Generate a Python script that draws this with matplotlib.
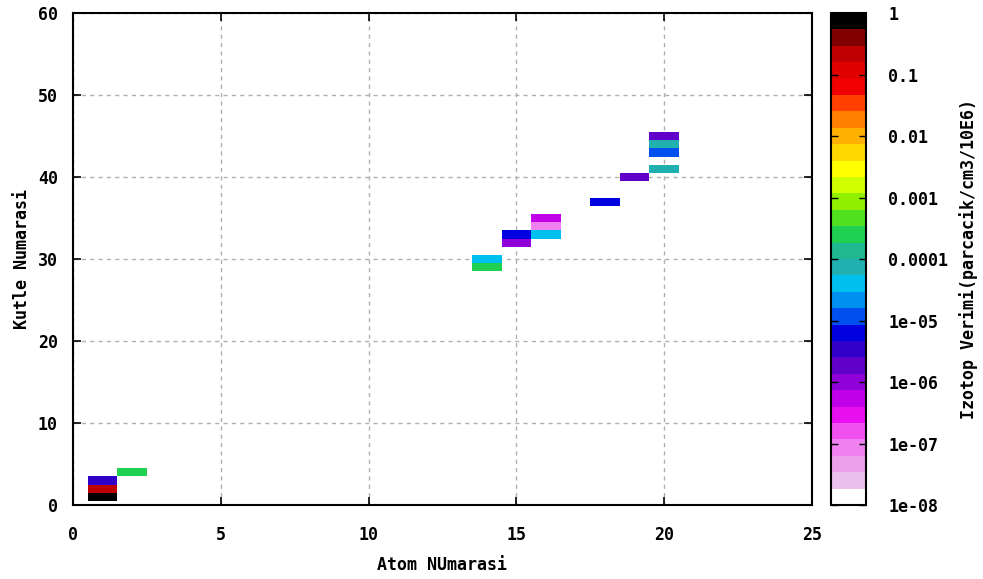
import numpy as np
import matplotlib.pyplot as plt
from matplotlib.colors import ListedColormap, LogNorm

# izotoplar: atom numarasi (Z), kutle numarasi (A), verim
atom_no = [1, 1, 1, 2, 14, 14, 15, 15, 16, 16, 16, 18, 19, 20, 20, 20, 20]
kutle_no = [1, 2, 3, 4, 29, 30, 32, 33, 33, 34, 35, 37, 40, 41, 43, 44, 45]
verim = [0.75, 0.2, 3.4e-6, 2.5e-4, 2.5e-4, 4e-5, 1e-6, 6.3e-6, 4e-5,
         8.6e-8, 5.4e-7, 6.3e-6, 1.8e-6, 7.4e-5, 1.2e-5, 7.4e-5, 1.8e-6]

# palet, 1e-08 -> 1
palet = ["#ffffff", "#ecc0ec", "#eca0ec", "#f080f0", "#f050f0", "#e810f0",
         "#c000e8", "#9000d8", "#6000c8", "#3000c8", "#0000e0", "#0050f0",
         "#0090f0", "#00c0f0", "#20b0b0", "#20b890", "#20d050", "#50e020",
         "#90f000", "#d0ff00", "#ffff00", "#ffd800", "#ffb000", "#ff8000",
         "#ff4000", "#f00000", "#e00000", "#c00000", "#800000", "#000000"]

cb_ticks = [1e-8, 1e-7, 1e-6, 1e-5, 1e-4, 1e-3, 1e-2, 1e-1, 1]
cb_labels = ["1e-08", "1e-07", "1e-06", "1e-05", "0.0001", "0.001", "0.01", "0.1", "1"]

plt.rcParams["font.family"] = "DejaVu Sans Mono"
plt.rcParams["font.weight"] = "bold"

grid = np.full((61, 26), np.nan)
for z, a, v in zip(atom_no, kutle_no, verim):
    grid[a, z] = v

fig = plt.figure(figsize=(9.83, 5.79), dpi=100)
ax = fig.add_axes([0.0743, 0.1278, 0.7517, 0.8497])
cax = fig.add_axes([0.8454, 0.1278, 0.0356, 0.8497])

cmap = ListedColormap(palet)
norm = LogNorm(vmin=1e-8, vmax=1)
xe = np.arange(-0.5, 26, 1)
ye = np.arange(-0.5, 61, 1)
mesh = ax.pcolormesh(xe, ye, grid, cmap=cmap, norm=norm, zorder=2)

ax.set_xlim(0, 25)
ax.set_ylim(0, 60)
ax.set_xticks(range(0, 26, 5))
ax.set_yticks(range(0, 61, 10))
ax.grid(True, color="#b0b0b0", linestyle=(0, (3, 3)), linewidth=1.0, zorder=1)
ax.set_axisbelow(True)
ax.tick_params(direction="in", length=6, width=1.2, top=True, right=True,
               labelsize=12)
ax.tick_params(axis="x", pad=15)
ax.tick_params(axis="y", pad=11)
for s in ax.spines.values():
    s.set_linewidth(1.5)

ax.set_xlabel("Atom NUmarasi", fontsize=12, fontweight="bold", labelpad=9)
ax.set_ylabel("Kutle Numarasi", fontsize=12, fontweight="bold", labelpad=5)

cb = fig.colorbar(mesh, cax=cax)
cb.set_ticks(cb_ticks)
cb.set_ticklabels(cb_labels)
cb.minorticks_off()
cax.tick_params(direction="in", length=5, width=1.0, left=True, right=True,
                labelsize=12, pad=16)
cb.outline.set_linewidth(1.5)
cb.set_label("Izotop Verimi(parcacik/cm3/10E6)", fontsize=12,
             fontweight="bold", labelpad=8)

fig.savefig("out.png", dpi=100)
